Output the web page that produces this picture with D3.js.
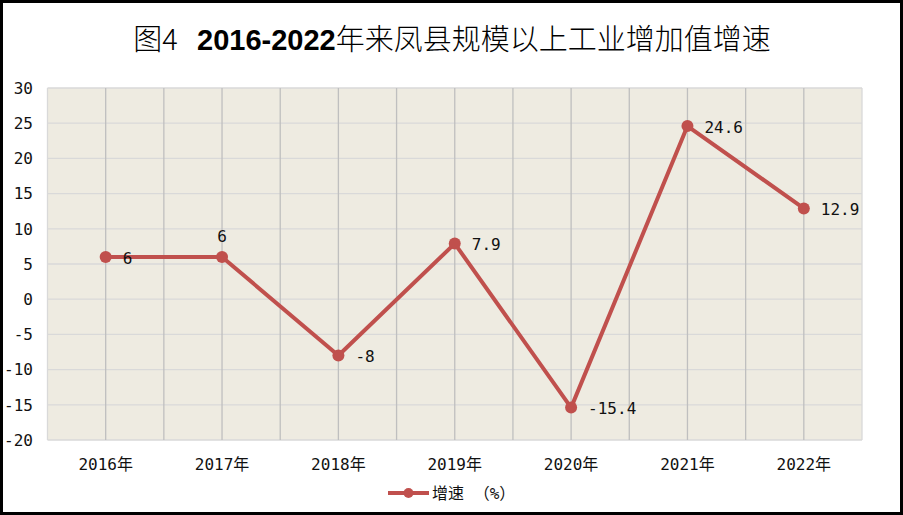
<!DOCTYPE html>
<html>
<head>
<meta charset="utf-8">
<script src="https://cdn.jsdelivr.net/npm/d3@7"></script>
<style>
  body { margin: 0; background: #fff; }
  svg { display: block; }
  .tick-label { font-family: "DejaVu Sans Mono", "Noto Sans CJK SC", monospace; font-size: 16px; fill: #111; }
</style>
</head>
<body>
<svg id="chart" width="903" height="515"></svg>
<script>
// data
const years = ["2016年", "2017年", "2018年", "2019年", "2020年", "2021年", "2022年"];
const growth = [6, 6, -8, 7.9, -15.4, 24.6, 12.9];
const yTicks = [30, 25, 20, 15, 10, 5, 0, -5, -10, -15, -20];
const seriesName = "增速 （%）";

const svg = d3.select("#chart");
const W = 903, H = 515;
const plot = { left: 47.5, right: 862, top: 88, bottom: 440 };

// outer frame
svg.append("rect")
    .attr("x", 1.5).attr("y", 1.5)
    .attr("width", W - 3).attr("height", H - 3)
    .attr("fill", "#fff")
    .attr("stroke", "#000")
    .attr("stroke-width", 3);

// title
const title = svg.append("text")
    .attr("x", 452).attr("y", 50)
    .attr("text-anchor", "middle")
    .attr("font-size", 29)
    .attr("font-family", "'Noto Sans CJK SC', sans-serif")
    .attr("font-weight", 300);
title.append("tspan").text("图4\u00a0\u00a0\u00a0");
title.append("tspan")
    .attr("font-family", "'Liberation Sans', Arial, sans-serif")
    .attr("font-weight", "bold")
    .text("2016-2022");
title.append("tspan").text("年来凤县规模以上工业增加值增速");

const x = d3.scaleBand()
    .domain(years)
    .range([plot.left, plot.right]);

const y = d3.scaleLinear()
    .domain([-20, 30])
    .range([plot.bottom, plot.top]);

// plot background
svg.append("rect")
    .attr("x", plot.left).attr("y", plot.top)
    .attr("width", plot.right - plot.left)
    .attr("height", plot.bottom - plot.top)
    .attr("fill", "#eeebe1");

// horizontal grid
svg.append("g")
    .selectAll("line")
    .data(yTicks)
    .join("line")
    .attr("x1", plot.left).attr("x2", plot.right)
    .attr("y1", d => y(d)).attr("y2", d => y(d))
    .attr("stroke", "#d9d9d9")
    .attr("stroke-width", 1.3);

// vertical grid: category boundaries and centers
const vLines = [];
years.forEach(c => {
    vLines.push(x(c));
    vLines.push(x(c) + x.bandwidth() / 2);
});
vLines.push(plot.right);
svg.append("g")
    .selectAll("line")
    .data(vLines)
    .join("line")
    .attr("x1", d => d).attr("x2", d => d)
    .attr("y1", plot.top).attr("y2", plot.bottom)
    .attr("stroke", (d, i) => (i === 0 || i === vLines.length - 1) ? "#d9d9d9" : "#bfbfbf")
    .attr("stroke-width", 1.3);

// y tick labels
svg.append("g")
    .selectAll("text")
    .data(yTicks)
    .join("text")
    .attr("class", "tick-label")
    .attr("x", 33)
    .attr("y", d => y(d))
    .attr("dy", "0.36em")
    .attr("text-anchor", "end")
    .text(d => d);

// x tick labels
svg.append("g")
    .selectAll("text")
    .data(years)
    .join("text")
    .attr("class", "tick-label")
    .attr("x", d => x(d) + x.bandwidth() / 2)
    .attr("y", 464)
    .attr("dy", "0.36em")
    .attr("text-anchor", "middle")
    .text(d => d);

const cx = (d, i) => x(years[i]) + x.bandwidth() / 2;
const color = "#c0504d";

// the line
const line = d3.line()
    .x((d, i) => cx(d, i))
    .y(d => y(d));

svg.append("path")
    .datum(growth)
    .attr("d", line)
    .attr("fill", "none")
    .attr("stroke", color)
    .attr("stroke-width", 4)
    .attr("stroke-linejoin", "round");

svg.append("g")
    .selectAll("circle")
    .data(growth)
    .join("circle")
    .attr("cx", cx)
    .attr("cy", d => y(d))
    .attr("r", 6)
    .attr("fill", color);

// data labels (2017 sits above its point, the rest to the right)
svg.append("g")
    .selectAll("text")
    .data(growth)
    .join("text")
    .attr("class", "tick-label")
    .attr("x", (d, i) => i === 1 ? cx(d, i) : cx(d, i) + 17)
    .attr("y", (d, i) => i === 1 ? y(d) - 21 : y(d) + 1)
    .attr("dy", "0.36em")
    .attr("text-anchor", (d, i) => i === 1 ? "middle" : "start")
    .text(d => d);

// legend
const lg = svg.append("g").attr("transform", "translate(388,493)");
lg.append("line")
    .attr("x1", 0).attr("x2", 41)
    .attr("stroke", color)
    .attr("stroke-width", 4);
lg.append("circle")
    .attr("cx", 20.5).attr("r", 5)
    .attr("fill", color);
lg.append("text")
    .attr("class", "tick-label")
    .attr("x", 44)
    .attr("dy", "0.36em")
    .attr("font-size", 15)
    .text(seriesName);
</script>
</body>
</html>
